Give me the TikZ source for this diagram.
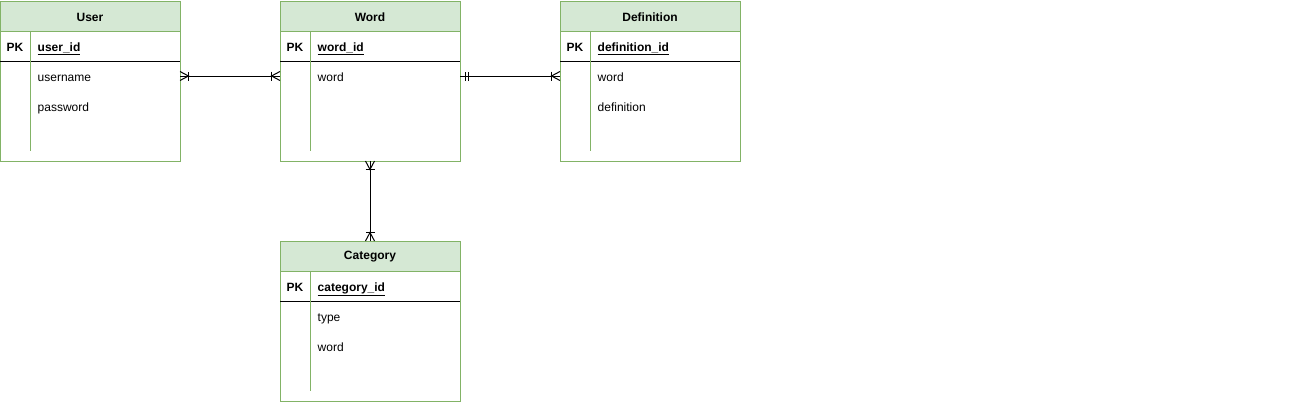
\documentclass[tikz,border=0pt]{standalone}
\usepackage{fontspec}
\setmainfont{Liberation Sans}
\definecolor{grn}{HTML}{82B366}
\definecolor{hdrfill}{HTML}{D5E8D4}
\tikzset{
  tblbox/.style={draw=grn, line width=1pt, minimum width=180pt, minimum height=160pt, inner sep=0pt, anchor=north west},
  hdr/.style={fill=hdrfill},
  ttl/.style={font=\fontsize{12}{14}\selectfont\bfseries, inner sep=0pt},
  fld/.style={font=\fontsize{12}{14}\selectfont, inner sep=0pt, anchor=base west},
  conn/.style={line width=1pt, black},
}
\newcommand\ertable[7]{%
  \fill[hdr] (#2,#3) rectangle ++(180,30);
  \node[tblbox] (#1) at (#2,#3) {};
  \draw[grn, line width=1pt] (#2,#3+30) -- ++(180,0);
  \draw[black, line width=1pt] (#2,#3+60) -- ++(180,0);
  \draw[grn, line width=1pt] (#2+30,#3+30) -- (#2+30,#3+150);
  \node[ttl] (#1-title) at (#2+90,#3+16) {#4};
  \node[fld] (#1-pkl) at (#2+6.5,#3+50) {\bfseries PK};
  \node[fld] (#1-pk) at (#2+37.5,#3+50) {\bfseries\underline{#5}};
  \node[fld] (#1-a1) at (#2+37.5,#3+80) {#6};
  \node[fld] (#1-a2) at (#2+37.5,#3+110) {#7};
  \coordinate (#1-e) at (#2+180,#3+75);
  \coordinate (#1-w) at (#2,#3+75);
  \coordinate (#1-s) at (#2+90,#3+160);
  \coordinate (#1-n) at (#2+90,#3);
}
\newcommand\manyend[2]{%
  \begin{scope}[shift={(#1)}, rotate=#2]
    \draw[conn] (0,4.5) -- (8.5,0) -- (0,-4.5);
    \draw[conn] (8.5,4.5) -- (8.5,-4.5);
  \end{scope}
}
\newcommand\oneend[2]{%
  \begin{scope}[shift={(#1)}, rotate=#2]
    \draw[conn] (5,4.5) -- (5,-4.5);
    \draw[conn] (8.5,4.5) -- (8.5,-4.5);
  \end{scope}
}
\begin{document}
\begin{tikzpicture}[x=1pt, y=-1pt]
  \useasboundingbox (0,0) rectangle (1301,402);
  \ertable{user}{0}{1}{User}{user\_id}{username}{password}
  \ertable{word}{280}{1}{Word}{word\_id}{word}{}
  \ertable{def}{560}{1}{Definition}{definition\_id}{word}{definition}
  \ertable{cat}{280}{241}{Category}{category\_id}{type}{word}
  \draw[conn] (user-e) -- (word-w);
  \manyend{user-e}{0}
  \manyend{word-w}{180}
  \draw[conn] (word-e) -- (def-w);
  \oneend{word-e}{0}
  \manyend{def-w}{180}
  \draw[conn] (word-s) -- (cat-n);
  \manyend{word-s}{-90}
  \manyend{cat-n}{90}
\end{tikzpicture}
\end{document}
